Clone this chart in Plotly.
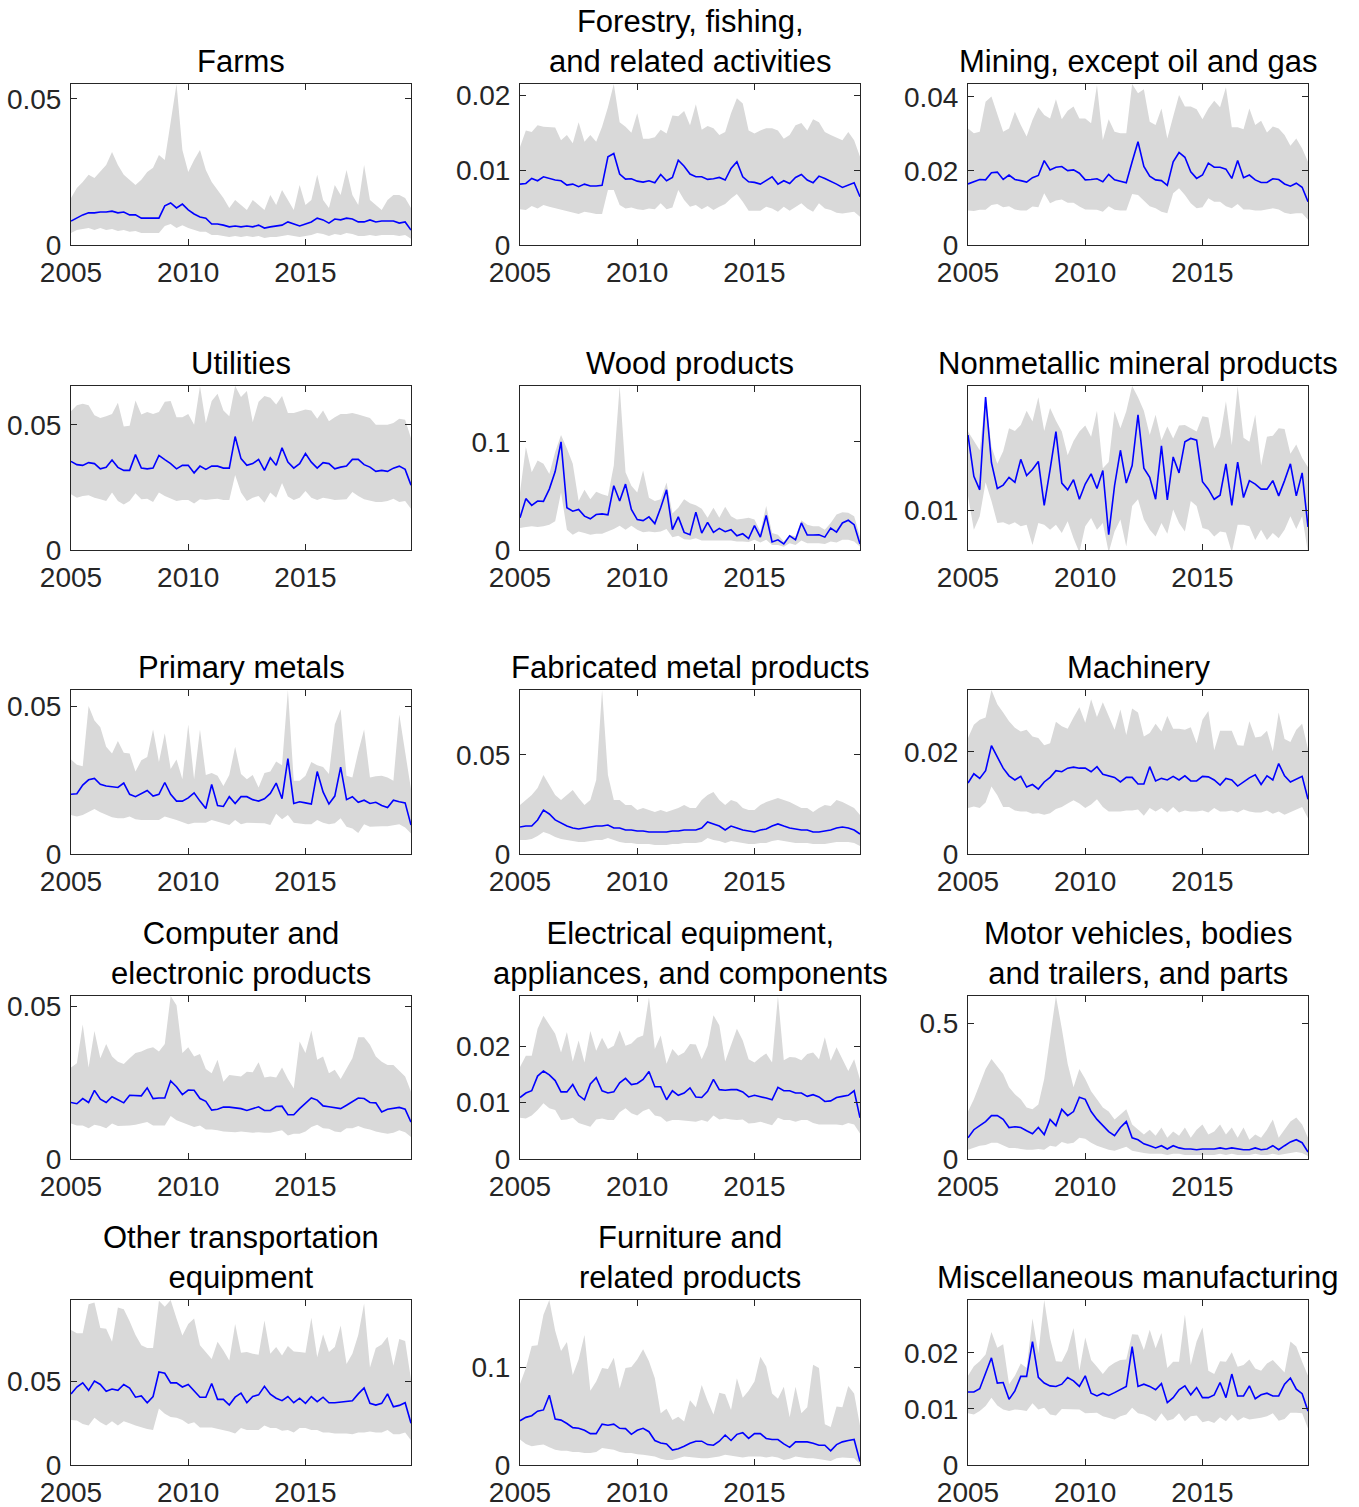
import plotly.graph_objects as go

N = 59
quarters = [2005 + 0.25 * k for k in range(N)]  # 2005Q1 .. 2019Q3
UNIT = 1e-3  # all series below are given in thousandths

titles = [
    "Farms",
    "Forestry, fishing,<br>and related activities",
    "Mining, except oil and gas",
    "Utilities",
    "Wood products",
    "Nonmetallic mineral products",
    "Primary metals",
    "Fabricated metal products",
    "Machinery",
    "Computer and<br>electronic products",
    "Electrical equipment,<br>appliances, and components",
    "Motor vehicles, bodies<br>and trailers, and parts",
    "Other transportation<br>equipment",
    "Furniture and<br>related products",
    "Miscellaneous manufacturing",
]

farms_mean = [8.2, 9.2, 10.3, 11.0, 11.0, 11.3, 11.3, 11.6, 11.0, 11.3, 10.3, 10.3, 9.2, 9.2, 9.2, 9.2, 13.4, 14.4, 12.7, 14.0, 12.0, 10.6, 9.6, 9.2, 7.2, 7.2, 6.8, 6.2, 6.5, 6.2, 6.5, 6.2, 6.8, 5.8, 6.2, 6.5, 6.8, 7.9, 7.2, 6.5, 7.2, 7.9, 9.2, 8.6, 7.5, 8.9, 8.6, 9.2, 8.9, 7.9, 7.9, 8.6, 7.9, 8.2, 8.2, 8.2, 7.5, 7.9, 5.1]
farms_hi = [16.1, 19.5, 21.6, 24.0, 22.9, 25.0, 27.4, 31.8, 27.4, 24.0, 22.3, 20.5, 22.3, 25.0, 26.4, 30.8, 29.1, 42.8, 55.1, 32.5, 25.0, 29.1, 32.5, 25.7, 21.6, 18.8, 16.1, 12.7, 15.4, 13.7, 12.0, 15.4, 13.7, 12.0, 17.1, 13.7, 18.8, 15.4, 12.0, 20.5, 13.7, 15.4, 24.0, 15.4, 12.7, 20.5, 17.1, 25.7, 17.1, 13.7, 27.4, 15.4, 13.7, 12.0, 15.4, 17.1, 17.1, 16.1, 12.7]
farms_lo = [4.1, 5.1, 5.5, 5.8, 5.1, 5.8, 5.1, 5.5, 4.8, 5.1, 4.5, 4.8, 4.1, 4.1, 4.1, 4.1, 6.5, 7.2, 5.8, 6.8, 5.8, 5.1, 4.5, 4.5, 3.4, 3.4, 3.1, 2.7, 3.1, 2.7, 3.1, 2.7, 3.1, 2.4, 2.7, 2.7, 3.1, 3.4, 3.1, 2.7, 3.1, 3.4, 4.1, 3.8, 3.1, 3.8, 3.4, 4.1, 3.8, 3.1, 3.1, 3.4, 3.1, 3.4, 3.4, 3.4, 3.1, 3.4, 2.1]

forestry_mean = [8.13, 8.22, 8.89, 8.58, 9.11, 8.89, 8.67, 8.58, 8.0, 8.13, 7.78, 8.13, 7.87, 7.87, 7.96, 11.78, 12.22, 9.47, 8.8, 8.84, 8.53, 8.4, 8.58, 8.31, 9.42, 8.58, 9.02, 11.33, 10.53, 9.47, 9.11, 9.11, 8.76, 8.84, 9.02, 8.67, 10.22, 11.11, 9.11, 8.44, 8.36, 8.13, 8.58, 9.11, 8.13, 8.58, 8.22, 9.02, 9.42, 8.67, 8.31, 9.2, 8.89, 8.53, 8.13, 7.69, 8.0, 8.31, 6.44]
forestry_hi = [13.1, 15.3, 15.1, 16.0, 15.8, 15.7, 15.7, 14.0, 14.7, 13.6, 16.4, 13.8, 14.7, 13.8, 15.8, 18.4, 21.5, 16.4, 15.8, 15.0, 17.6, 14.2, 14.2, 14.4, 15.4, 14.9, 17.3, 17.2, 17.9, 16.0, 18.8, 15.4, 15.9, 15.6, 14.7, 15.1, 17.6, 19.6, 18.9, 15.3, 14.9, 15.3, 15.6, 15.6, 15.3, 14.2, 14.7, 16.0, 16.3, 15.3, 16.8, 16.4, 15.1, 14.7, 14.4, 14.0, 15.1, 14.0, 11.8]
forestry_lo = [4.76, 4.67, 5.2, 4.89, 5.33, 5.11, 4.89, 4.67, 4.49, 4.31, 4.13, 4.44, 4.31, 4.13, 4.13, 7.33, 7.33, 5.33, 4.89, 5.02, 4.76, 4.67, 4.89, 4.76, 5.56, 4.76, 5.02, 7.33, 6.0, 5.11, 5.33, 4.76, 5.2, 4.67, 5.11, 5.47, 6.22, 6.8, 5.78, 4.58, 4.58, 4.58, 5.11, 4.89, 4.44, 5.11, 4.58, 5.11, 5.56, 4.89, 4.44, 5.56, 4.89, 4.67, 4.31, 4.22, 4.31, 4.44, 3.78]

mining_mean = [16.5, 17.0, 17.7, 17.6, 19.5, 19.7, 17.7, 18.9, 17.7, 17.4, 17.0, 18.2, 18.8, 22.8, 20.3, 21.0, 21.2, 20.1, 20.3, 19.4, 17.6, 17.7, 17.9, 17.1, 19.1, 17.6, 17.1, 16.8, 22.5, 27.9, 21.2, 18.6, 17.6, 17.4, 16.1, 22.5, 25.0, 23.7, 19.8, 18.0, 18.9, 22.1, 21.0, 21.0, 20.5, 18.0, 22.8, 18.2, 18.9, 17.6, 16.9, 16.9, 17.9, 17.7, 16.5, 15.9, 16.7, 15.6, 11.7]
mining_hi = [31.5, 30.2, 30.6, 38.7, 40.1, 35.6, 30.6, 31.5, 36.0, 32.4, 29.3, 33.8, 37.2, 35.1, 34.2, 39.4, 34.0, 36.3, 37.4, 34.2, 34.2, 32.9, 43.2, 28.4, 34.0, 30.6, 30.2, 30.2, 43.5, 41.0, 42.1, 33.3, 32.4, 36.9, 28.8, 34.7, 40.5, 37.4, 37.4, 36.7, 34.0, 36.9, 39.0, 37.2, 42.6, 31.8, 31.8, 31.3, 36.9, 32.4, 33.6, 30.4, 32.0, 31.5, 29.7, 26.8, 28.8, 26.1, 22.5]
mining_lo = [9.3, 9.2, 9.5, 9.5, 10.8, 11.1, 10.2, 10.5, 9.6, 9.3, 9.3, 10.4, 10.2, 14.0, 11.3, 12.0, 12.3, 11.4, 11.4, 10.4, 9.6, 9.6, 9.5, 9.0, 10.5, 9.5, 9.3, 9.3, 13.8, 13.5, 12.0, 10.5, 9.9, 9.0, 8.6, 14.0, 15.3, 13.5, 11.3, 9.9, 10.2, 12.6, 11.7, 11.7, 10.5, 9.9, 11.1, 9.6, 9.6, 9.3, 9.3, 9.6, 9.9, 9.6, 8.7, 8.4, 8.6, 8.6, 6.8]

utilities_mean = [35.4, 34.1, 33.8, 34.9, 34.5, 32.4, 33.0, 35.9, 33.0, 31.8, 31.8, 38.1, 32.7, 32.4, 32.7, 37.8, 36.1, 34.5, 32.4, 33.8, 33.8, 30.8, 33.5, 32.2, 33.5, 33.5, 32.7, 32.7, 45.3, 36.5, 33.8, 34.5, 36.2, 31.8, 36.8, 33.8, 40.8, 35.1, 32.7, 34.5, 38.5, 35.1, 32.7, 34.9, 34.5, 32.4, 33.1, 33.5, 36.2, 36.2, 34.1, 33.1, 31.4, 31.8, 31.4, 32.7, 33.5, 32.2, 25.9]
utilities_hi = [55.4, 57.8, 58.4, 57.8, 53.8, 52.7, 53.4, 54.3, 58.8, 49.3, 49.6, 59.7, 54.1, 55.1, 54.3, 55.1, 59.2, 59.5, 53.0, 53.0, 54.3, 50.0, 65.5, 50.7, 59.5, 62.4, 55.7, 53.4, 65.5, 61.1, 63.5, 51.1, 59.2, 61.5, 60.8, 58.1, 61.5, 54.7, 54.7, 55.4, 56.1, 55.7, 52.4, 55.7, 51.4, 53.0, 54.3, 54.3, 54.7, 54.1, 53.4, 52.7, 50.0, 50.0, 50.0, 50.7, 52.4, 52.0, 44.6]
utilities_lo = [22.3, 20.9, 21.6, 21.9, 20.9, 20.3, 19.6, 23.0, 19.6, 18.2, 19.6, 22.7, 20.3, 20.5, 19.2, 23.0, 21.6, 20.5, 19.6, 20.0, 20.0, 18.6, 20.3, 20.0, 20.3, 20.5, 20.0, 20.0, 30.0, 23.0, 19.6, 20.9, 21.6, 18.9, 23.0, 20.9, 26.8, 21.4, 20.0, 20.9, 23.6, 20.9, 20.0, 20.9, 20.5, 20.0, 20.0, 20.3, 23.2, 21.6, 20.3, 19.6, 19.2, 19.2, 19.6, 20.5, 19.2, 19.6, 16.5]

wood_mean = [29.7, 47.5, 41.3, 45.3, 45.0, 56.3, 72.5, 100.0, 39.1, 35.9, 37.5, 31.3, 28.8, 32.8, 33.4, 32.5, 59.4, 45.3, 60.9, 37.5, 28.1, 27.2, 30.6, 24.4, 39.1, 55.6, 18.8, 30.6, 16.3, 14.1, 35.0, 15.6, 25.6, 16.3, 20.0, 16.9, 18.8, 13.1, 15.0, 10.6, 22.5, 11.9, 31.9, 7.5, 9.4, 5.6, 13.1, 9.4, 25.0, 13.8, 13.8, 14.1, 11.9, 20.3, 16.6, 25.0, 27.5, 23.4, 5.6]
wood_hi = [53.1, 95.3, 71.9, 82.8, 79.7, 70.3, 90.6, 106.3, 93.8, 79.7, 45.3, 55.6, 46.9, 53.8, 51.6, 50.0, 78.1, 151.6, 71.9, 59.4, 53.1, 73.4, 48.4, 45.3, 46.9, 62.5, 33.8, 39.1, 46.9, 43.1, 41.3, 38.1, 29.7, 39.1, 29.7, 40.0, 31.3, 28.1, 28.8, 29.7, 28.1, 17.2, 40.6, 15.6, 14.1, 7.8, 14.1, 12.5, 27.5, 23.4, 21.9, 21.9, 18.8, 25.0, 32.8, 35.0, 34.4, 31.3, 12.5]
wood_lo = [20.3, 21.3, 21.9, 21.3, 21.9, 23.4, 26.6, 53.1, 18.8, 14.1, 17.2, 15.6, 14.1, 15.0, 15.0, 17.2, 19.4, 22.5, 18.8, 22.5, 18.8, 16.3, 17.2, 16.3, 17.2, 19.4, 11.9, 13.1, 10.0, 9.4, 10.9, 8.8, 9.4, 8.8, 8.8, 8.8, 8.8, 7.8, 7.8, 7.5, 9.4, 6.9, 9.4, 4.7, 4.7, 3.1, 6.3, 4.7, 8.8, 6.3, 6.3, 6.3, 5.6, 7.8, 6.9, 9.4, 9.4, 7.8, 3.1]

nonmetal_mean = [15.74, 12.60, 11.57, 18.62, 13.63, 11.67, 11.93, 12.52, 12.14, 13.89, 12.65, 13.11, 13.73, 10.39, 13.11, 16.00, 12.08, 11.57, 12.34, 10.85, 12.01, 12.78, 11.67, 13.04, 8.15, 11.88, 14.58, 12.08, 13.42, 17.28, 13.22, 12.52, 10.85, 14.92, 10.80, 14.07, 12.86, 15.23, 15.48, 15.35, 12.19, 11.62, 10.85, 11.16, 13.55, 10.39, 13.68, 10.98, 12.27, 12.01, 11.62, 11.62, 12.27, 11.11, 12.27, 13.55, 11.11, 12.86, 8.74]
nonmetal_hi = [16.00, 15.28, 14.58, 18.70, 14.84, 13.55, 14.50, 16.25, 16.05, 16.51, 17.59, 16.77, 18.62, 16.05, 17.80, 16.82, 16.00, 14.20, 15.28, 16.00, 16.46, 15.61, 17.59, 13.22, 13.68, 17.54, 16.25, 17.54, 19.47, 18.62, 17.59, 15.74, 17.28, 15.35, 16.38, 15.48, 16.46, 16.51, 16.25, 16.00, 17.16, 17.08, 14.71, 15.61, 18.31, 14.97, 19.47, 15.53, 15.23, 17.28, 13.42, 15.61, 15.69, 16.25, 16.20, 14.32, 15.02, 13.99, 13.29]
nonmetal_lo = [11.11, 8.53, 9.56, 12.14, 10.72, 9.05, 9.10, 8.92, 9.10, 8.79, 8.92, 7.37, 9.05, 8.92, 8.53, 8.92, 8.28, 9.18, 7.89, 6.8, 8.79, 9.43, 8.53, 9.05, 6.8, 8.40, 9.31, 7.25, 10.33, 10.85, 9.31, 8.53, 8.02, 9.05, 8.22, 10.08, 9.05, 8.40, 10.72, 10.33, 8.66, 8.53, 8.02, 8.40, 8.33, 6.8, 8.92, 8.92, 8.79, 7.76, 8.53, 7.76, 8.28, 7.89, 8.53, 9.56, 8.58, 9.56, 6.8]

primary_mean = [20.2, 20.4, 23.3, 25.1, 25.6, 23.6, 23.0, 22.8, 22.5, 24.0, 20.2, 19.4, 20.5, 21.5, 19.6, 20.2, 24.2, 20.2, 17.9, 17.9, 19.0, 20.7, 17.9, 15.4, 23.5, 16.4, 16.1, 19.4, 17.1, 19.4, 19.4, 18.4, 17.9, 18.7, 20.5, 24.0, 18.7, 32.3, 17.1, 17.7, 17.3, 16.9, 27.9, 21.0, 16.9, 19.6, 29.4, 18.4, 19.4, 17.5, 18.2, 17.1, 17.5, 16.4, 15.7, 18.2, 17.7, 17.3, 9.8]
primary_hi = [32.0, 30.2, 29.7, 50.1, 45.2, 42.9, 36.3, 34.0, 38.2, 34.3, 34.0, 27.9, 31.7, 32.8, 42.1, 31.1, 40.9, 28.8, 32.0, 25.3, 43.8, 25.3, 42.1, 26.7, 27.4, 26.5, 23.0, 26.7, 36.3, 27.1, 25.3, 26.7, 22.5, 27.4, 27.9, 31.3, 30.0, 55.5, 24.8, 24.8, 26.5, 31.1, 30.0, 29.4, 27.1, 43.8, 49.0, 26.5, 25.9, 34.6, 42.1, 25.9, 26.3, 26.5, 25.9, 24.8, 47.2, 34.6, 21.9]
primary_lo = [13.2, 12.7, 13.2, 14.1, 15.2, 14.1, 13.2, 12.4, 12.1, 12.1, 12.7, 11.8, 11.5, 11.5, 11.5, 11.5, 12.7, 12.1, 11.5, 10.9, 10.1, 10.6, 10.6, 10.6, 11.5, 10.9, 10.4, 9.8, 11.5, 10.1, 10.6, 10.4, 10.4, 10.4, 9.8, 13.6, 11.8, 13.2, 10.6, 10.4, 10.1, 10.1, 11.5, 10.6, 10.1, 10.4, 12.1, 9.2, 8.6, 7.1, 10.1, 9.2, 9.2, 9.4, 9.4, 9.8, 10.1, 9.0, 6.9]

fabricated_mean = [13.6, 14.1, 14.1, 17.2, 22.2, 20.2, 17.2, 15.7, 14.1, 13.1, 12.6, 13.1, 13.6, 14.1, 14.1, 14.6, 13.1, 13.1, 12.1, 12.1, 11.6, 11.6, 11.1, 11.1, 11.1, 11.1, 11.6, 11.6, 12.1, 12.1, 12.1, 13.1, 16.2, 15.2, 14.1, 12.1, 14.1, 13.1, 12.1, 11.6, 11.1, 12.1, 12.6, 14.1, 15.2, 14.1, 13.1, 12.6, 12.1, 12.1, 11.1, 11.1, 11.6, 12.1, 13.1, 13.6, 13.1, 12.1, 10.1]
fabricated_hi = [24.7, 27.3, 29.8, 33.3, 39.9, 34.8, 29.8, 27.3, 29.8, 32.3, 28.3, 24.7, 27.3, 37.4, 82.8, 39.9, 27.3, 27.3, 24.7, 24.7, 22.2, 23.2, 22.2, 21.2, 22.2, 21.2, 22.2, 23.2, 24.7, 23.2, 23.2, 27.3, 29.8, 31.3, 27.3, 24.7, 27.3, 26.3, 23.2, 22.2, 22.2, 24.7, 26.3, 27.3, 28.3, 27.3, 26.3, 24.7, 23.2, 23.2, 21.2, 23.2, 24.7, 24.2, 27.3, 26.3, 24.7, 23.2, 19.7]
fabricated_lo = [7.1, 7.1, 7.6, 9.1, 11.1, 10.1, 8.6, 7.6, 7.1, 6.6, 6.1, 6.1, 6.6, 7.1, 7.1, 8.1, 7.1, 6.1, 5.6, 5.6, 5.1, 5.1, 5.1, 4.5, 4.5, 4.5, 5.1, 5.1, 5.6, 5.6, 5.6, 6.1, 8.1, 7.1, 6.6, 5.6, 6.6, 6.1, 5.6, 5.1, 5.1, 5.6, 5.6, 6.6, 7.1, 6.6, 6.1, 5.6, 5.6, 5.6, 5.1, 5.1, 5.1, 5.6, 6.1, 6.1, 6.1, 5.6, 4.0]

machinery_mean = [13.9, 15.7, 14.8, 16.3, 21.2, 19.0, 16.8, 15.3, 14.5, 15.2, 13.1, 13.6, 12.7, 14.1, 15.0, 16.3, 16.1, 16.8, 17.0, 16.8, 16.8, 16.1, 17.1, 15.6, 15.3, 15.0, 14.1, 15.0, 15.0, 13.7, 13.7, 17.1, 14.3, 14.8, 14.5, 15.2, 14.5, 15.3, 14.3, 14.3, 15.2, 15.1, 14.5, 13.5, 14.8, 14.5, 13.3, 14.1, 14.9, 15.5, 13.6, 15.3, 14.5, 17.7, 15.3, 14.1, 14.7, 15.2, 10.7]
machinery_hi = [22.7, 25.3, 26.3, 26.7, 32.1, 29.3, 27.7, 26.0, 24.7, 24.0, 24.3, 23.0, 22.7, 21.3, 21.7, 25.9, 25.0, 24.5, 26.7, 28.7, 25.7, 30.3, 26.8, 29.7, 27.0, 24.3, 28.3, 23.3, 28.5, 27.7, 23.0, 23.7, 25.5, 24.0, 27.0, 24.5, 24.5, 24.3, 24.8, 21.7, 26.3, 28.0, 20.3, 24.1, 24.1, 24.1, 21.3, 21.2, 26.0, 22.8, 23.0, 24.1, 20.1, 27.7, 22.5, 21.9, 24.3, 25.5, 20.5]
machinery_lo = [9.0, 9.3, 9.0, 10.1, 13.2, 11.5, 9.2, 9.2, 8.5, 8.3, 8.3, 7.9, 8.0, 7.7, 8.0, 8.8, 9.2, 9.9, 10.5, 9.9, 9.0, 9.7, 10.7, 9.2, 8.3, 8.3, 8.3, 8.5, 8.5, 8.7, 7.5, 9.0, 8.3, 9.0, 8.1, 9.2, 8.1, 8.5, 8.3, 8.3, 8.5, 8.1, 9.0, 8.3, 8.3, 8.5, 8.1, 8.7, 8.3, 8.1, 8.1, 8.5, 7.9, 8.3, 7.7, 8.3, 8.7, 9.2, 7.0]

computer_mean = [18.5, 18.1, 19.8, 18.5, 22.5, 19.6, 18.5, 20.4, 19.4, 18.4, 20.9, 20.9, 20.7, 23.3, 19.8, 20.0, 20.0, 25.6, 23.7, 21.1, 22.6, 22.5, 19.8, 18.9, 16.0, 16.3, 17.0, 17.0, 16.7, 16.5, 15.9, 16.5, 17.1, 15.9, 15.9, 17.2, 17.3, 14.5, 14.5, 16.5, 18.1, 20.0, 19.3, 17.4, 17.1, 16.7, 16.5, 17.6, 18.9, 20.0, 19.8, 18.5, 18.4, 15.4, 16.3, 16.7, 16.9, 16.3, 12.1]
computer_hi = [30.0, 31.4, 44.1, 30.0, 41.9, 33.0, 37.7, 33.6, 31.9, 31.1, 33.0, 34.7, 35.2, 36.1, 36.6, 35.2, 37.7, 53.4, 50.4, 34.7, 36.6, 33.6, 34.4, 29.5, 28.1, 32.5, 25.3, 27.5, 27.3, 27.0, 28.6, 28.4, 31.7, 26.7, 27.0, 26.7, 30.0, 26.2, 23.1, 38.5, 34.7, 42.1, 32.5, 33.6, 28.1, 29.2, 26.2, 29.7, 33.0, 39.9, 39.9, 37.4, 33.6, 31.9, 30.8, 30.8, 28.9, 27.0, 22.0]
computer_lo = [11.6, 11.0, 11.0, 10.1, 11.2, 10.8, 10.1, 11.6, 10.8, 10.8, 11.0, 11.2, 11.6, 12.1, 11.0, 11.0, 11.0, 14.1, 12.7, 11.9, 11.2, 10.5, 11.0, 9.7, 9.7, 9.4, 9.0, 8.8, 8.8, 9.0, 8.8, 8.6, 8.8, 8.6, 8.6, 9.0, 9.4, 7.7, 8.3, 8.3, 9.0, 10.5, 11.2, 10.1, 9.9, 9.0, 8.8, 10.1, 10.1, 10.8, 10.1, 9.7, 9.0, 8.6, 8.3, 8.6, 9.4, 8.8, 7.2]

electrical_mean = [10.9, 11.7, 12.1, 14.7, 15.6, 14.9, 13.9, 11.9, 11.9, 13.2, 11.3, 10.5, 13.3, 14.4, 12.1, 11.7, 11.9, 13.5, 14.3, 13.2, 13.4, 14.1, 15.5, 12.8, 12.8, 10.5, 12.1, 11.3, 11.7, 12.6, 11.0, 10.9, 12.0, 14.1, 12.3, 12.2, 12.3, 12.3, 11.9, 11.0, 11.3, 11.1, 10.8, 10.5, 12.7, 12.1, 12.1, 11.7, 11.7, 11.1, 11.4, 11.0, 10.2, 10.3, 10.9, 11.1, 11.3, 12.1, 7.3]
electrical_hi = [16.3, 18.3, 18.3, 23.1, 25.4, 23.7, 22.2, 18.9, 22.5, 17.3, 21.0, 17.1, 22.7, 19.2, 21.5, 19.5, 20.1, 22.8, 20.1, 20.5, 21.5, 21.9, 28.7, 19.5, 21.9, 16.9, 19.5, 18.3, 18.9, 20.4, 20.3, 17.7, 20.1, 25.5, 23.7, 17.3, 20.4, 23.1, 21.0, 17.7, 17.1, 18.0, 18.7, 17.1, 28.9, 17.5, 18.1, 18.0, 17.5, 18.6, 18.9, 17.7, 21.6, 17.4, 19.8, 17.7, 15.6, 17.7, 14.1]
electrical_lo = [7.3, 7.2, 7.7, 8.7, 9.9, 9.0, 8.7, 6.9, 7.0, 7.3, 6.4, 6.0, 5.7, 7.0, 7.2, 6.9, 6.9, 8.3, 9.0, 8.1, 7.7, 8.5, 8.9, 7.7, 7.5, 6.6, 6.9, 6.9, 6.9, 6.7, 6.6, 6.9, 6.6, 7.7, 7.0, 7.2, 7.0, 6.9, 7.0, 6.3, 6.4, 6.6, 6.3, 6.0, 7.3, 6.9, 6.9, 6.6, 6.9, 6.9, 6.4, 6.1, 6.1, 6.1, 6.1, 6.0, 6.4, 6.1, 4.5]

motor_mean = [78, 108, 123, 138, 160, 160, 146, 116, 119, 116, 104, 93, 116, 90, 146, 123, 183, 160, 175, 228, 220, 175, 146, 123, 101, 86, 116, 138, 78, 71, 56, 49, 41, 49, 37, 49, 41, 37, 37, 34, 37, 37, 37, 41, 37, 41, 37, 34, 34, 41, 34, 37, 49, 34, 49, 63, 71, 60, 26]
motor_hi = [175, 220, 276, 332, 369, 340, 313, 265, 239, 220, 190, 183, 201, 295, 444, 601, 481, 351, 265, 332, 295, 250, 220, 190, 175, 146, 164, 183, 127, 108, 90, 108, 86, 116, 78, 101, 86, 116, 78, 108, 127, 90, 101, 127, 90, 116, 78, 116, 71, 90, 78, 108, 146, 78, 108, 138, 153, 127, 78]
motor_lo = [34, 41, 49, 52, 60, 60, 52, 41, 41, 37, 34, 34, 37, 34, 49, 45, 63, 56, 60, 78, 75, 60, 49, 41, 34, 30, 37, 45, 30, 26, 22, 19, 19, 19, 15, 19, 19, 15, 15, 15, 15, 15, 15, 19, 15, 19, 15, 15, 15, 19, 15, 15, 19, 15, 19, 22, 26, 22, 11]

othertrans_mean = [42.6, 46.7, 49.2, 44.7, 50.2, 48.2, 44.1, 45.5, 44.7, 48.2, 46.1, 40.6, 41.4, 37.3, 41.0, 55.7, 54.9, 49.2, 49.2, 46.7, 48.2, 44.1, 40.6, 40.6, 48.8, 39.3, 39.3, 35.9, 40.6, 43.0, 37.3, 41.0, 42.0, 47.1, 42.4, 40.0, 38.5, 41.0, 37.3, 40.0, 36.9, 41.0, 37.9, 40.6, 37.3, 37.3, 37.7, 37.9, 38.5, 42.6, 46.1, 36.9, 35.9, 36.9, 42.6, 34.8, 35.7, 37.3, 25.0]
othertrans_hi = [80.9, 78.9, 78.9, 96.3, 97.3, 82.0, 81.6, 73.8, 94.3, 93.2, 86.1, 77.9, 71.7, 70.1, 70.1, 98.4, 94.7, 98.8, 87.7, 77.5, 84.4, 87.7, 71.7, 67.6, 63.5, 73.8, 68.6, 62.5, 84.4, 67.2, 67.6, 66.6, 66.0, 86.5, 66.6, 70.7, 65.6, 71.3, 68.0, 67.6, 67.2, 88.1, 64.5, 78.3, 67.6, 70.7, 83.6, 60.5, 66.6, 77.9, 96.7, 58.4, 70.1, 72.1, 76.8, 59.4, 75.4, 74.2, 51.2]
othertrans_lo = [27.0, 26.6, 24.6, 23.6, 28.3, 25.6, 23.6, 26.2, 23.6, 26.2, 25.0, 23.6, 22.5, 21.5, 20.9, 33.8, 30.7, 28.7, 28.3, 27.0, 24.6, 25.6, 22.5, 22.5, 22.5, 22.1, 20.9, 20.1, 18.9, 22.1, 20.9, 20.9, 20.9, 23.6, 22.1, 22.1, 20.5, 20.9, 19.5, 22.1, 22.1, 20.9, 20.9, 19.5, 19.5, 18.9, 18.9, 18.9, 18.4, 19.5, 19.5, 20.1, 19.5, 19.5, 20.9, 18.4, 18.4, 19.5, 14.8]

furniture_mean = [45.3, 48.8, 50.5, 55.1, 56.4, 71.4, 47.0, 46.0, 42.5, 38.3, 37.6, 35.5, 32.1, 32.1, 41.8, 40.8, 41.8, 37.6, 37.3, 31.4, 35.5, 37.6, 34.1, 25.1, 22.6, 21.6, 15.3, 16.7, 19.2, 22.3, 24.4, 24.4, 20.9, 20.2, 24.4, 30.7, 25.1, 31.4, 33.1, 27.2, 32.1, 32.1, 27.2, 26.1, 26.1, 21.6, 18.1, 23.7, 23.7, 23.7, 22.3, 20.2, 20.2, 14.6, 20.9, 23.7, 25.1, 26.1, 3.5]
furniture_hi = [82.9, 99.3, 122.0, 122.6, 154.0, 169.0, 137.6, 116.7, 126.1, 92.3, 108.0, 133.1, 76.0, 85.4, 99.3, 98.3, 109.8, 78.4, 99.3, 100.3, 108.0, 118.5, 106.3, 88.9, 53.0, 57.5, 46.0, 49.5, 44.6, 66.2, 59.2, 81.9, 65.5, 51.6, 73.9, 72.5, 56.4, 88.9, 69.0, 76.0, 85.4, 110.8, 101.0, 73.2, 67.9, 80.1, 48.8, 80.1, 53.0, 59.2, 102.8, 99.3, 41.8, 39.0, 59.9, 59.2, 80.8, 73.2, 40.1]
furniture_lo = [26.1, 21.6, 19.2, 20.2, 20.9, 18.1, 15.7, 14.6, 14.6, 13.2, 13.2, 12.2, 12.2, 13.2, 17.4, 16.7, 15.7, 13.2, 12.2, 12.2, 11.1, 10.5, 9.8, 8.7, 6.3, 5.2, 5.2, 7.0, 8.7, 8.7, 7.7, 7.0, 7.0, 7.7, 8.7, 10.5, 9.8, 8.7, 7.7, 8.7, 8.7, 8.7, 7.7, 8.7, 7.7, 5.2, 6.3, 8.7, 7.7, 7.0, 7.0, 6.3, 5.2, 4.2, 7.0, 7.7, 7.7, 7.0, 0.7]

misc_mean = [13.0, 13.0, 13.6, 16.4, 19.1, 14.6, 14.7, 11.7, 13.2, 15.8, 15.8, 22.0, 15.6, 14.6, 14.1, 14.0, 14.4, 15.6, 15.0, 14.0, 15.9, 12.8, 12.3, 12.8, 12.4, 12.9, 13.4, 14.0, 21.1, 14.0, 14.4, 14.0, 13.4, 14.5, 11.1, 12.0, 13.4, 14.1, 12.5, 13.8, 12.0, 12.0, 12.5, 14.7, 12.0, 16.2, 12.3, 12.3, 14.1, 11.8, 12.5, 12.8, 12.3, 12.3, 14.4, 15.5, 13.5, 12.7, 9.6]
misc_hi = [15.9, 17.6, 18.5, 19.7, 23.7, 20.9, 21.5, 14.4, 15.9, 18.1, 17.3, 26.1, 19.9, 29.4, 22.6, 18.5, 18.4, 20.5, 24.4, 16.8, 22.7, 18.7, 17.5, 16.2, 17.5, 18.2, 18.7, 18.8, 23.3, 23.2, 20.5, 24.1, 20.8, 23.5, 17.3, 18.4, 18.4, 26.8, 17.8, 22.0, 24.5, 16.8, 16.2, 18.5, 18.4, 20.1, 17.5, 17.8, 18.8, 17.2, 16.8, 18.1, 18.7, 17.5, 16.5, 22.0, 21.1, 18.4, 15.9]
misc_lo = [9.2, 9.0, 9.6, 10.5, 12.0, 10.6, 9.9, 9.6, 9.9, 9.8, 9.6, 11.0, 9.9, 10.2, 9.0, 8.8, 10.0, 10.0, 9.9, 9.9, 9.2, 9.3, 9.3, 8.7, 8.4, 8.1, 8.7, 9.0, 10.2, 9.2, 9.0, 8.5, 7.8, 9.2, 7.9, 8.2, 9.2, 7.8, 8.7, 8.8, 7.6, 7.9, 7.5, 8.5, 7.8, 9.0, 7.9, 8.5, 8.1, 8.2, 8.4, 8.7, 9.2, 7.9, 8.2, 9.3, 9.3, 9.2, 6.5]

# y tick values (in data units) and their labels per panel
yticks = [
    ([0, 0.05], ["0", "0.05"]),
    ([0, 0.01, 0.02], ["0", "0.01", "0.02"]),
    ([0, 0.02, 0.04], ["0", "0.02", "0.04"]),
    ([0, 0.05], ["0", "0.05"]),
    ([0, 0.1], ["0", "0.1"]),
    ([0.01], ["0.01"]),
    ([0, 0.05], ["0", "0.05"]),
    ([0, 0.05], ["0", "0.05"]),
    ([0, 0.02], ["0", "0.02"]),
    ([0, 0.05], ["0", "0.05"]),
    ([0, 0.01, 0.02], ["0", "0.01", "0.02"]),
    ([0, 0.5], ["0", "0.5"]),
    ([0, 0.05], ["0", "0.05"]),
    ([0, 0.1], ["0", "0.1"]),
    ([0, 0.01, 0.02], ["0", "0.01", "0.02"]),
]
y_floor = [0, 0, 0, 0, 0, 0.00699, 0, 0, 0, 0, 0, 0, 0, 0, 0]

series = [
    (farms_mean, farms_lo, farms_hi),
    (forestry_mean, forestry_lo, forestry_hi),
    (mining_mean, mining_lo, mining_hi),
    (utilities_mean, utilities_lo, utilities_hi),
    (wood_mean, wood_lo, wood_hi),
    (nonmetal_mean, nonmetal_lo, nonmetal_hi),
    (primary_mean, primary_lo, primary_hi),
    (fabricated_mean, fabricated_lo, fabricated_hi),
    (machinery_mean, machinery_lo, machinery_hi),
    (computer_mean, computer_lo, computer_hi),
    (electrical_mean, electrical_lo, electrical_hi),
    (motor_mean, motor_lo, motor_hi),
    (othertrans_mean, othertrans_lo, othertrans_hi),
    (furniture_mean, furniture_lo, furniture_hi),
    (misc_mean, misc_lo, misc_hi),
]
for s in series:
    for arr in s:
        assert len(arr) == N, len(arr)

W, H = 1359, 1507
col_px = [(71, 411), (520, 860), (968, 1308)]
row_px = [(84, 245), (386, 550), (690, 854), (996, 1159), (1300, 1465)]
FONT = "Liberation Sans, Arial, Helvetica, sans-serif"
AX = "#262626"

axis_style = dict(
    showline=True, linecolor=AX, linewidth=1, mirror="ticks",
    ticks="inside", ticklen=6, tickwidth=1, tickcolor=AX,
    showgrid=False, zeroline=False, automargin=False,
    tickfont=dict(family=FONT, size=28, color=AX),
)

fig = go.Figure()
layout = dict(
    width=W, height=H, margin=dict(l=0, r=0, t=0, b=0, autoexpand=False),
    paper_bgcolor="white", plot_bgcolor="white",
    showlegend=False, font=dict(family=FONT),
)
annotations = []

for k, (mean, lo, hi) in enumerate(series):
    r, c = divmod(k, 3)
    sfx = "" if k == 0 else str(k + 1)
    xa, ya = "x" + sfx, "y" + sfx
    m = [v * UNIT for v in mean]
    l = [v * UNIT for v in lo]
    h = [v * UNIT for v in hi]
    fig.add_trace(go.Scatter(
        x=quarters + quarters[::-1], y=h + l[::-1],
        fill="toself", fillcolor="#d9d9d9", mode="lines",
        line=dict(width=0, color="#d9d9d9"), hoverinfo="skip",
        xaxis=xa, yaxis=ya,
    ))
    fig.add_trace(go.Scatter(
        x=quarters, y=m, mode="lines",
        line=dict(color="#0000ff", width=1.6),
        xaxis=xa, yaxis=ya,
    ))
    x0, x1 = col_px[c]
    y0, y1 = row_px[r]
    tv, tt = yticks[k]
    layout["xaxis" + sfx] = dict(
        domain=[x0 / W, x1 / W], anchor=ya, range=[2005, 2019.5],
        tickvals=[2005, 2010, 2015], ticktext=["2005", "2010", "2015"],
        ticklabelstandoff=2, **axis_style)
    layout["yaxis" + sfx] = dict(
        domain=[1 - y1 / H, 1 - y0 / H], anchor=xa,
        range=[y_floor[k], max(h)], tickvals=tv, ticktext=tt,
        ticklabelstandoff=3, **axis_style)
    annotations.append(dict(
        text=titles[k], x=(x0 + x1) / 2 / W, y=1 - y0 / H,
        xref="paper", yref="paper", xanchor="center", yanchor="bottom",
        showarrow=False, yshift=3,
        font=dict(family=FONT, size=31, color="black"),
    ))

layout["annotations"] = annotations
fig.update_layout(**layout)
fig.write_html("out.html")
